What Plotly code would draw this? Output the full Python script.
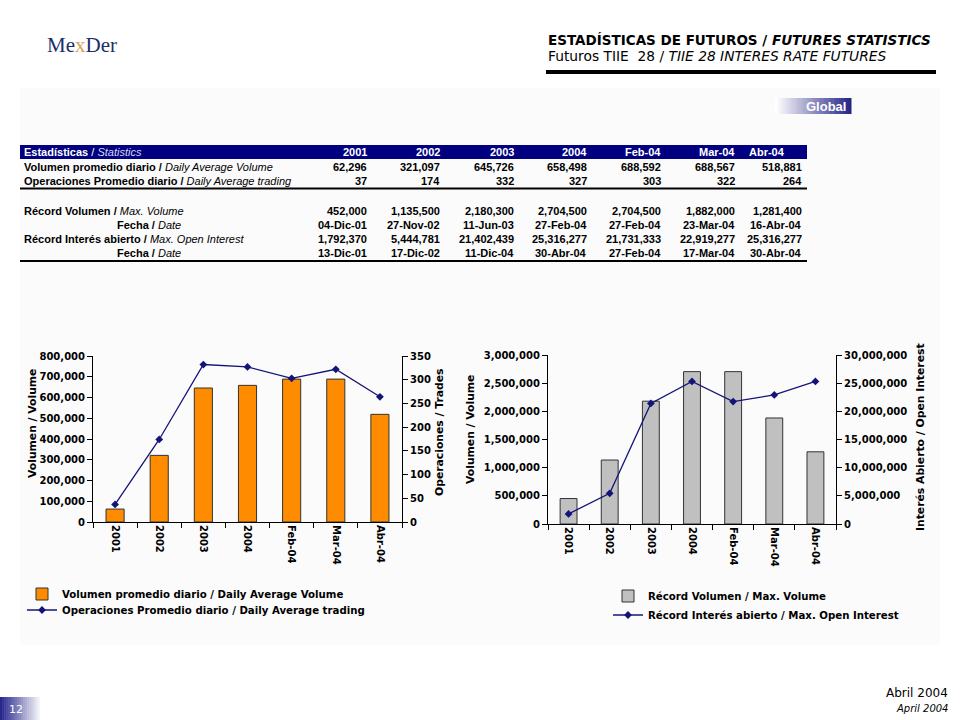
import plotly.graph_objects as go

# ---------------- data ----------------
periods = ["2001", "2002", "2003", "2004", "Feb-04", "Mar-04", "Abr-04"]
avg_volume = [62296, 321097, 645726, 658498, 688592, 688567, 518881]
avg_trades = [37, 174, 332, 327, 303, 322, 264]
max_volume = [452000, 1135500, 2180300, 2704500, 2704500, 1882000, 1281400]
max_volume_date = ["04-Dic-01", "27-Nov-02", "11-Jun-03", "27-Feb-04", "27-Feb-04", "23-Mar-04", "16-Abr-04"]
max_oi = [1792370, 5444781, 21402439, 25316277, 21731333, 22919277, 25316277]
max_oi_date = ["13-Dic-01", "17-Dic-02", "11-Dic-04", "30-Abr-04", "27-Feb-04", "17-Mar-04", "30-Abr-04"]

row_labels = [
    ("Volumen promedio diario", "Daily Average Volume"),
    ("Operaciones Promedio diario", "Daily Average trading"),
    ("Récord Volumen", "Max. Volume"),
    ("Fecha", "Date"),
    ("Récord Interés abierto", "Max. Open Interest"),
    ("Fecha", "Date"),
]

W, H = 960, 720
def X(px):
    return px / W
def Y(py):
    return 1 - py / H

NAVY = "#000080"
LINE = "#141478"
ORANGE = "#FF8C00"
GREY = "#C0C0C0"
TFONT = "Liberation Sans, Arial, sans-serif"
CFONT = "DejaVu Sans, Verdana, sans-serif"

fig = go.Figure()

# ---------------- charts ----------------
fig.add_trace(go.Bar(
    x=periods, y=avg_volume, xaxis="x", yaxis="y",
    name="Volumen promedio diario / Daily Average Volume",
    marker=dict(color=ORANGE, line=dict(color="#333333", width=1)),
    width=0.41, legend="legend"))
fig.add_trace(go.Scatter(
    x=periods, y=avg_trades, xaxis="x", yaxis="y2", mode="lines+markers",
    name="Operaciones Promedio diario / Daily Average trading",
    line=dict(color=LINE, width=1.3),
    marker=dict(symbol="diamond", size=6, color=LINE),
    legend="legend2"))
fig.add_trace(go.Bar(
    x=periods, y=max_volume, xaxis="x2", yaxis="y3",
    name="Récord Volumen / Max. Volume",
    marker=dict(color=GREY, line=dict(color="#333333", width=1)),
    width=0.41, legend="legend3"))
fig.add_trace(go.Scatter(
    x=periods, y=max_oi, xaxis="x2", yaxis="y4", mode="lines+markers",
    name="Récord Interés abierto / Max. Open Interest",
    line=dict(color=LINE, width=1.3),
    marker=dict(symbol="diamond", size=6, color=LINE),
    legend="legend4"))

tickfont = dict(family=CFONT, size=10, color="black", weight="bold")
xcommon = dict(showline=True, linecolor="black", linewidth=1, ticks="outside",
               tickson="boundaries", ticklen=5, tickcolor="black",
               tickangle=90, tickfont=tickfont, showgrid=False, zeroline=False, automargin=False)
ycommon = dict(showline=True, linecolor="black", linewidth=1, ticks="outside",
               ticklen=5, tickcolor="black", tickfont=tickfont, showgrid=False,
               zeroline=False, tickformat=",", automargin=False)

legfont = dict(family=CFONT, size=10.2, color="black", weight="bold")
def leg(px, py):
    return dict(x=X(px), y=Y(py), xanchor="left", yanchor="middle", bgcolor="rgba(0,0,0,0)",
                font=legfont, itemwidth=30)

fig.update_layout(
    width=W, height=H, margin=dict(l=0, r=0, t=0, b=0, pad=0, autoexpand=False),
    paper_bgcolor="white", plot_bgcolor="rgba(0,0,0,0)",
    bargap=0.59, showlegend=True,
    xaxis=dict(domain=[X(93), X(402)], anchor="y", **xcommon),
    yaxis=dict(domain=[Y(522), Y(356)], anchor="x", range=[0, 800000], dtick=100000, **ycommon),
    yaxis2=dict(overlaying="y", side="right", anchor="x", range=[0, 350], dtick=50, **ycommon),
    xaxis2=dict(domain=[X(548), X(836)], anchor="y3", **xcommon),
    yaxis3=dict(domain=[Y(524), Y(355)], anchor="x2", range=[0, 3000000], dtick=500000, **ycommon),
    yaxis4=dict(overlaying="y3", side="right", anchor="x2", range=[0, 30000000], dtick=5000000, **ycommon),
    legend=leg(22, 594),
    legend2=leg(22, 610),
    legend3=leg(608, 596),
    legend4=leg(608, 615),
)

shapes = []
annotations = []

# panel background
shapes.append(dict(type="rect", xref="paper", yref="paper", x0=X(20), x1=X(940), y0=Y(645), y1=Y(88),
                   fillcolor="#FBFBFB", line=dict(width=0), layer="below"))

# header line
shapes.append(dict(type="line", xref="paper", yref="paper", x0=X(546), x1=X(936), y0=Y(72), y1=Y(72),
                   line=dict(color="black", width=4)))

# Global badge gradient
n = 30
x0, x1 = 775, 851
for i in range(n):
    t = i / (n - 1)
    r = int(255 + (38 - 255) * t)
    g = int(255 + (38 - 255) * t)
    b = int(255 + (135 - 255) * t)
    shapes.append(dict(type="rect", xref="paper", yref="paper",
                       x0=X(x0 + (x1 - x0) * i / n), x1=X(x0 + (x1 - x0) * (i + 1) / n + 0.5),
                       y0=Y(114), y1=Y(98), fillcolor=f"rgb({r},{g},{b})", line=dict(width=0)))
annotations.append(dict(xref="paper", yref="paper", x=X(848), y=Y(106), xanchor="right", yanchor="middle",
                        text="<b>Global</b>", showarrow=False,
                        font=dict(family="Liberation Sans, Arial", size=13, color="white")))

# page number gradient
n = 20
for i in range(n):
    t = i / (n - 1)
    r = int(40 + (255 - 40) * t)
    g = int(40 + (255 - 40) * t)
    b = int(140 + (255 - 140) * t)
    shapes.append(dict(type="rect", xref="paper", yref="paper",
                       x0=X(42 * i / n), x1=X(42 * (i + 1) / n + 0.5),
                       y0=Y(720), y1=Y(697), fillcolor=f"rgb({r},{g},{b})", line=dict(width=0)))
annotations.append(dict(xref="paper", yref="paper", x=X(16), y=Y(709), xanchor="center", yanchor="middle",
                        text="12", showarrow=False,
                        font=dict(family="DejaVu Sans", size=11, color="white")))

# Logo
annotations.append(dict(xref="paper", yref="paper", x=X(45), y=Y(45), xanchor="left", yanchor="middle",
                        text="Me<span style='color:#D9A05B'>x</span>Der", showarrow=False,
                        font=dict(family="Liberation Serif, serif", size=21, color="#1B2F6B")))

# Title texts
annotations.append(dict(xref="paper", yref="paper", x=X(546), y=Y(40), xanchor="left", yanchor="middle",
                        text="<b>ESTADÍSTICAS DE FUTUROS / <i>FUTURES STATISTICS</i></b>", showarrow=False,
                        font=dict(family=CFONT, size=13.5, color="black")))
annotations.append(dict(xref="paper", yref="paper", x=X(546), y=Y(56), xanchor="left", yanchor="middle",
                        text="Futuros TIIE  28 / <i>TIIE 28 INTERES RATE FUTURES</i>", showarrow=False,
                        font=dict(family=CFONT, size=13.8, color="black")))

# Footer
annotations.append(dict(xref="paper", yref="paper", x=X(950), y=Y(693), xanchor="right", yanchor="middle",
                        text="Abril 2004", showarrow=False,
                        font=dict(family=CFONT, size=12, color="black")))
annotations.append(dict(xref="paper", yref="paper", x=X(950), y=Y(708), xanchor="right", yanchor="middle",
                        text="<i>April 2004</i>", showarrow=False,
                        font=dict(family=CFONT, size=10, color="black")))

# ---------------- table ----------------
col_right = [369, 442, 516, 589, 663, 737, 804]
hdr_right = [369, 442, 516, 589, 663, 737, 787]
shapes.append(dict(type="rect", xref="paper", yref="paper", x0=X(20), x1=X(807), y0=Y(159), y1=Y(145),
                   fillcolor=NAVY, line=dict(width=0)))
annotations.append(dict(xref="paper", yref="paper", x=X(22), y=Y(152), xanchor="left", yanchor="middle",
                        text="<b>Estadísticas</b> / <i><span style='color:#D8D8F0'>Statistics</span></i>",
                        showarrow=False, font=dict(family=TFONT, size=11, color="white")))
for i, p in enumerate(periods):
    annotations.append(dict(xref="paper", yref="paper", x=X(hdr_right[i]), y=Y(152), xanchor="right",
                            yanchor="middle", text=f"<b>{p}</b>", showarrow=False,
                            font=dict(family=TFONT, size=11, color="white")))

row_y = [167, 181, 211, 225, 239, 253]
row_values = [
    [f"{v:,}" for v in avg_volume],
    [f"{v:,}" for v in avg_trades],
    [f"{v:,}" for v in max_volume],
    max_volume_date,
    [f"{v:,}" for v in max_oi],
    max_oi_date,
]
for r, (es, en) in enumerate(row_labels):
    centered = es == "Fecha"
    annotations.append(dict(xref="paper", yref="paper", x=X(149 if centered else 22), y=Y(row_y[r]),
                            xanchor="center" if centered else "left", yanchor="middle",
                            text=f"<b>{es} /</b> <i>{en}</i>", showarrow=False,
                            font=dict(family=TFONT, size=11, color="black")))
    for i, v in enumerate(row_values[r]):
        annotations.append(dict(xref="paper", yref="paper", x=X(col_right[i]), y=Y(row_y[r]),
                                xanchor="right", yanchor="middle", text=f"<b>{v}</b>", showarrow=False,
                                font=dict(family=TFONT, size=11, color="black")))
for yy in (188.5, 261):
    shapes.append(dict(type="line", xref="paper", yref="paper", x0=X(20), x1=X(807), y0=Y(yy), y1=Y(yy),
                       line=dict(color="black", width=2)))

# ---------------- axis titles ----------------
for (px, py, txt) in [(32, 424, "Volumen / Volume"), (439, 432, "Operaciones / Trades"),
                      (470, 430, "Volumen / Volume"), (921, 437, "Interés Abierto / Open Interest")]:
    annotations.append(dict(xref="paper", yref="paper", x=X(px), y=Y(py), xanchor="center", yanchor="middle",
                            text=txt, textangle=-90, showarrow=False,
                            font=dict(family=CFONT, size=10.8, color="black", weight="bold")))

fig.update_layout(shapes=shapes, annotations=annotations)
fig.write_html("out.html", config={"displayModeBar": False},
               post_script="document.body.style.margin='0';document.body.style.padding='0';"
                           "document.body.style.overflow='hidden';")
